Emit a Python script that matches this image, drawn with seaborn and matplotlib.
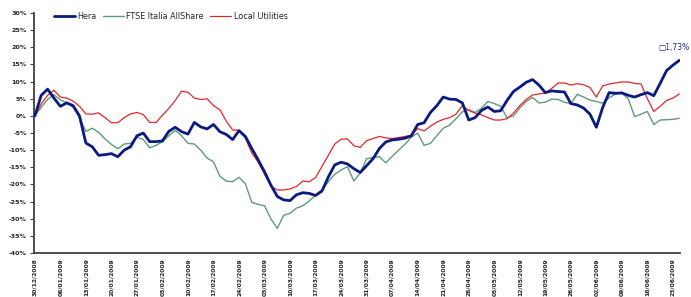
import numpy as np
import pandas as pd
import matplotlib
matplotlib.use('Agg')
import matplotlib.pyplot as plt
import seaborn as sns
from matplotlib.ticker import FuncFormatter

# weekly tick labels (one label every 4 samples)
week_labels = ['30/12/2008', '06/01/2009', '13/01/2009', '20/01/2009', '27/01/2009',
               '03/02/2009', '10/02/2009', '17/02/2009', '24/02/2009', '03/03/2009',
               '10/03/2009', '17/03/2009', '24/03/2009', '31/03/2009', '07/04/2009',
               '14/04/2009', '21/04/2009', '28/04/2009', '05/05/2009', '12/05/2009',
               '19/05/2009', '26/05/2009', '02/06/2009', '09/06/2009', '16/06/2009',
               '23/06/2009']

# performance since start, in %
hera = [0, 6.0, 7.8, 5.2, 2.8, 3.8, 3.0, 0.0, -7.9, -9.0,
        -11.5, -11.3, -11.0, -11.9, -10.0, -9.0, -5.8, -5.0, -7.5, -7.5,
        -7.3, -4.5, -3.3, -4.6, -5.3, -1.9, -3.2, -3.8, -2.5, -4.6,
        -5.4, -6.9, -4.3, -6.0, -9.5, -12.8, -16.3, -20.2, -23.5, -24.5,
        -24.7, -23.0, -22.4, -22.6, -23.2, -21.9, -17.8, -14.3, -13.5, -14.0,
        -15.4, -16.5, -14.5, -12.5, -9.5, -7.6, -7.0, -6.8, -6.5, -5.8,
        -2.5, -2.0, 1.0, 3.0, 5.5, 4.9, 4.8, 3.8, -1.2, -0.5,
        1.6, 2.6, 1.3, 1.5, 4.5, 7.1, 8.4, 9.8, 10.6, 9.0,
        6.8, 7.3, 7.1, 7.0, 3.6, 3.2, 2.3, 0.5, -3.3, 2.5,
        6.8, 6.6, 6.7, 6.0, 5.5, 6.2, 6.8, 5.9, 9.5, 13.2,
        14.8, 16.2]

ftse = [0, 2.5, 4.8, 6.2, 4.7, 3.8, 2.5, -0.5, -4.5, -3.6,
        -4.8, -6.7, -8.3, -9.6, -8.2, -8.0, -6.2, -6.9, -9.3, -8.6,
        -7.5, -5.8, -4.2, -5.8, -8.0, -8.2, -10.0, -12.3, -13.4, -17.6,
        -19.0, -19.2, -17.9, -19.8, -25.2, -25.8, -26.2, -30.0, -32.8, -29.0,
        -28.4, -26.9, -26.2, -24.8, -23.2, -21.6, -19.2, -17.0, -15.8, -14.8,
        -19.0, -16.6, -12.5, -12.1, -11.9, -13.7, -11.8, -10.0, -8.3, -6.2,
        -5.0, -8.6, -8.0, -5.8, -3.6, -2.7, -0.8, 1.2, 1.8, 1.0,
        2.2, 4.2, 3.6, 2.8, -0.5, 0.0, 2.3, 4.2, 5.4, 3.8,
        4.0, 4.9, 4.8, 4.0, 3.6, 6.3, 5.5, 4.6, 4.2, 3.7,
        5.3, 6.4, 6.7, 5.0, -0.2, 0.5, 1.3, -2.5, -1.2, -1.1,
        -1.0, -0.7]

local_utilities = [0, 3.5, 6.0, 7.5, 5.5, 5.2, 4.3, 2.8, 0.6, 0.5,
                   0.9, -0.5, -2.0, -2.0, -0.5, 0.6, 1.0, 0.4, -1.9, -1.9,
                   0.2, 2.2, 4.5, 7.2, 6.9, 5.2, 4.8, 5.0, 3.0, 1.8,
                   -1.5, -4.1, -4.2, -6.5, -10.8, -13.5, -17.0, -20.5, -21.6, -21.6,
                   -21.3, -20.6, -19.0, -19.2, -18.0, -14.7, -11.5, -8.2, -6.8, -6.7,
                   -8.7, -9.2, -7.2, -6.6, -6.0, -6.4, -6.6, -6.3, -6.0, -5.6,
                   -3.7, -4.4, -3.0, -1.8, -1.0, -0.5, 0.5, 3.0, 1.6, 0.8,
                   0.3, -0.5, -1.2, -1.2, -0.8, 0.8, 3.0, 4.8, 6.1, 6.4,
                   6.7, 8.0, 9.6, 9.6, 9.0, 9.4, 9.1, 8.3, 5.5, 8.8,
                   9.3, 9.6, 9.9, 9.9, 9.5, 9.3, 5.0, 1.3, 2.8, 4.5,
                   5.2, 6.4]

final_label = '\u25a11,73%'

sns.set_style('white')
plt.rcParams['font.family'] = ['DejaVu Sans']

idx = np.arange(len(hera))
df = pd.DataFrame({'t': idx, 'Hera': hera, 'FTSE Italia AllShare': ftse,
                   'Local Utilities': local_utilities})

fig = plt.figure(figsize=(6.91, 2.97), dpi=100)
ax = fig.add_axes([0.049, 0.148, 0.935, 0.808])

sns.lineplot(data=df, x='t', y='FTSE Italia AllShare', ax=ax, color='#5f9a7c',
             lw=1.0, label='FTSE Italia AllShare', zorder=2)
sns.lineplot(data=df, x='t', y='Local Utilities', ax=ax, color='#e0282c',
             lw=0.9, label='Local Utilities', zorder=3)
sns.lineplot(data=df, x='t', y='Hera', ax=ax, color='#0a1a80',
             lw=2.0, label='Hera', zorder=4)

# end-of-period label, kept inside the figure
ax.annotate(final_label, xy=(idx[-1], hera[-1]), xytext=(-15, 9),
            textcoords='offset points', ha='left', va='center', fontsize=5.5,
            color='#1a2a80', annotation_clip=False)

ax.set_ylim(-40, 30)
ax.set_yticks(np.arange(-40, 31, 5))
ax.yaxis.set_major_formatter(FuncFormatter(lambda v, p: f'{v:.0f}%'))
ax.set_xlim(-0.15, 101.1)
ax.set_xticks(np.arange(0, len(week_labels) * 4, 4))
ax.set_xticklabels(week_labels, rotation=90)
ax.set_xlabel('')
ax.set_ylabel('')

for lab in ax.get_yticklabels():
    lab.set_fontsize(4.6)
    lab.set_fontweight('bold')
for lab in ax.get_xticklabels():
    lab.set_fontsize(4.3)
    lab.set_fontweight('bold')
ax.tick_params(axis='y', length=3, width=0.8, color='#404040', pad=2, left=True)
ax.tick_params(axis='x', length=0, pad=4)

sns.despine(ax=ax)
for s in ['left', 'bottom']:
    ax.spines[s].set_color('#404040')
    ax.spines[s].set_linewidth(1.3)

h, l = ax.get_legend_handles_labels()
order = [l.index('Hera'), l.index('FTSE Italia AllShare'), l.index('Local Utilities')]
ax.legend([h[i] for i in order], [l[i] for i in order], ncol=3, frameon=False,
          loc='upper left', bbox_to_anchor=(0.02, 1.035), fontsize=5.8,
          handlelength=2.6, handletextpad=0.3, columnspacing=0.8)

fig.savefig('out.png', dpi=100)
